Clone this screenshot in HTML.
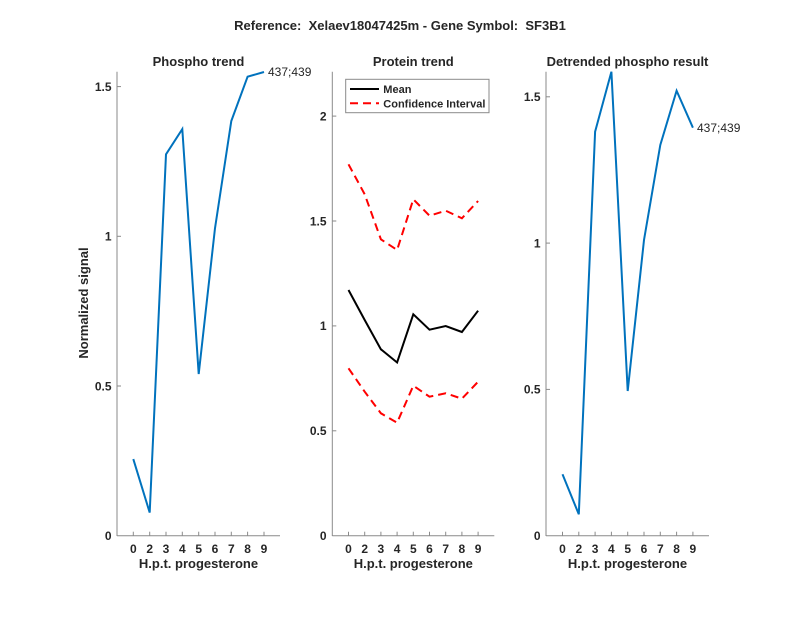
<!DOCTYPE html>
<html>
<head>
<meta charset="utf-8">
<style>
  html, body { margin:0; padding:0; background:#fff; }
  svg { display:block; }
  text { font-family: "Liberation Sans", Arial, sans-serif; fill:#262626; }
  .b { font-weight:bold; }
</style>
</head>
<body>
<svg width="800" height="618" viewBox="0 0 800 618" xmlns="http://www.w3.org/2000/svg">
  <rect width="800" height="618" fill="#fff"/>

  <!-- Super title -->
  <text x="400" y="30" text-anchor="middle" class="b" font-size="13" xml:space="preserve">Reference:  Xelaev18047425m - Gene Symbol:  SF3B1</text>

  <!-- ============ Panel 1: Phospho trend ============ -->
  <text x="198.5" y="66" text-anchor="middle" class="b" font-size="13">Phospho trend</text>
  <g stroke="#8a8a8a" stroke-width="1" fill="none">
    <line x1="117" y1="71.7" x2="117" y2="536"/>
    <line x1="117" y1="535.7" x2="280" y2="535.7"/>
    <line x1="117" y1="386" x2="121" y2="386"/>
    <line x1="117" y1="236.3" x2="121" y2="236.3"/>
    <line x1="117" y1="86.6" x2="121" y2="86.6"/>
    <line x1="133.3" y1="535.7" x2="133.3" y2="531.7"/>
    <line x1="149.7" y1="535.7" x2="149.7" y2="531.7"/>
    <line x1="166" y1="535.7" x2="166" y2="531.7"/>
    <line x1="182.3" y1="535.7" x2="182.3" y2="531.7"/>
    <line x1="198.7" y1="535.7" x2="198.7" y2="531.7"/>
    <line x1="215" y1="535.7" x2="215" y2="531.7"/>
    <line x1="231.3" y1="535.7" x2="231.3" y2="531.7"/>
    <line x1="247.6" y1="535.7" x2="247.6" y2="531.7"/>
    <line x1="264" y1="535.7" x2="264" y2="531.7"/>
  </g>
  <g class="b" font-size="12" text-anchor="end">
    <text x="111.5" y="540">0</text>
    <text x="111.5" y="390.3">0.5</text>
    <text x="111.5" y="240.6">1</text>
    <text x="111.5" y="90.9">1.5</text>
  </g>
  <g class="b" font-size="12" text-anchor="middle">
    <text x="133.3" y="553">0</text>
    <text x="149.7" y="553">2</text>
    <text x="166" y="553">3</text>
    <text x="182.3" y="553">4</text>
    <text x="198.7" y="553">5</text>
    <text x="215" y="553">6</text>
    <text x="231.3" y="553">7</text>
    <text x="247.6" y="553">8</text>
    <text x="264" y="553">9</text>
  </g>
  <text x="198.5" y="568" text-anchor="middle" class="b" font-size="13">H.p.t. progesterone</text>
  <text transform="translate(88,303) rotate(-90)" text-anchor="middle" class="b" font-size="13">Normalized signal</text>
  <polyline fill="none" stroke="#0072BD" stroke-width="2"
    points="133.3,459.1 149.7,512.6 166,154.3 182.3,129.1 198.7,374 215,228.2 231.3,121 247.6,76.7 264,72"/>
  <text x="268" y="76" font-size="12">437;439</text>

  <!-- ============ Panel 2: Protein trend ============ -->
  <text x="413.3" y="66" text-anchor="middle" class="b" font-size="13">Protein trend</text>
  <g stroke="#8a8a8a" stroke-width="1" fill="none">
    <line x1="332.3" y1="71.7" x2="332.3" y2="536"/>
    <line x1="332.3" y1="535.7" x2="494.3" y2="535.7"/>
    <line x1="332.3" y1="430.8" x2="336.3" y2="430.8"/>
    <line x1="332.3" y1="325.9" x2="336.3" y2="325.9"/>
    <line x1="332.3" y1="221" x2="336.3" y2="221"/>
    <line x1="332.3" y1="116.1" x2="336.3" y2="116.1"/>
    <line x1="348.5" y1="535.7" x2="348.5" y2="531.7"/>
    <line x1="364.7" y1="535.7" x2="364.7" y2="531.7"/>
    <line x1="380.9" y1="535.7" x2="380.9" y2="531.7"/>
    <line x1="397.1" y1="535.7" x2="397.1" y2="531.7"/>
    <line x1="413.3" y1="535.7" x2="413.3" y2="531.7"/>
    <line x1="429.5" y1="535.7" x2="429.5" y2="531.7"/>
    <line x1="445.7" y1="535.7" x2="445.7" y2="531.7"/>
    <line x1="461.9" y1="535.7" x2="461.9" y2="531.7"/>
    <line x1="478.1" y1="535.7" x2="478.1" y2="531.7"/>
  </g>
  <g class="b" font-size="12" text-anchor="end">
    <text x="326.5" y="540">0</text>
    <text x="326.5" y="435.1">0.5</text>
    <text x="326.5" y="330.2">1</text>
    <text x="326.5" y="225.3">1.5</text>
    <text x="326.5" y="120.4">2</text>
  </g>
  <g class="b" font-size="12" text-anchor="middle">
    <text x="348.5" y="553">0</text>
    <text x="364.7" y="553">2</text>
    <text x="380.9" y="553">3</text>
    <text x="397.1" y="553">4</text>
    <text x="413.3" y="553">5</text>
    <text x="429.5" y="553">6</text>
    <text x="445.7" y="553">7</text>
    <text x="461.9" y="553">8</text>
    <text x="478.1" y="553">9</text>
  </g>
  <text x="413.3" y="568" text-anchor="middle" class="b" font-size="13">H.p.t. progesterone</text>
  <polyline fill="none" stroke="#FF0000" stroke-width="2" stroke-dasharray="8 5"
    points="348.5,164.3 364.7,194.3 380.9,239.3 397.1,250 413.3,199.3 429.5,215.7 445.7,210.7 461.9,218.3 478.1,201"/>
  <polyline fill="none" stroke="#FF0000" stroke-width="2" stroke-dasharray="8 5"
    points="348.5,368.3 364.7,391.7 380.9,413.3 397.1,422.7 413.3,385.7 429.5,396.7 445.7,393.3 461.9,398.7 478.1,381.7"/>
  <polyline fill="none" stroke="#000" stroke-width="2"
    points="348.5,290 364.7,320 380.9,349.3 397.1,362.5 413.3,314.3 429.5,329.7 445.7,326 461.9,332 478.1,310.7"/>
  <!-- Legend -->
  <rect x="345.7" y="79.3" width="143.3" height="33.4" fill="#fff" stroke="#8a8a8a" stroke-width="1"/>
  <line x1="350" y1="89" x2="379" y2="89" stroke="#000" stroke-width="2"/>
  <line x1="350" y1="103.3" x2="379" y2="103.3" stroke="#FF0000" stroke-width="2" stroke-dasharray="8 5"/>
  <text x="383.3" y="93" class="b" font-size="11">Mean</text>
  <text x="383.3" y="107.3" class="b" font-size="11">Confidence Interval</text>

  <!-- ============ Panel 3: Detrended phospho result ============ -->
  <text x="627.5" y="66" text-anchor="middle" class="b" font-size="13">Detrended phospho result</text>
  <g stroke="#8a8a8a" stroke-width="1" fill="none">
    <line x1="546" y1="71.7" x2="546" y2="536"/>
    <line x1="546" y1="535.7" x2="709" y2="535.7"/>
    <line x1="546" y1="389.4" x2="550" y2="389.4"/>
    <line x1="546" y1="243.1" x2="550" y2="243.1"/>
    <line x1="546" y1="96.8" x2="550" y2="96.8"/>
    <line x1="562.5" y1="535.7" x2="562.5" y2="531.7"/>
    <line x1="578.8" y1="535.7" x2="578.8" y2="531.7"/>
    <line x1="595.1" y1="535.7" x2="595.1" y2="531.7"/>
    <line x1="611.4" y1="535.7" x2="611.4" y2="531.7"/>
    <line x1="627.7" y1="535.7" x2="627.7" y2="531.7"/>
    <line x1="644" y1="535.7" x2="644" y2="531.7"/>
    <line x1="660.3" y1="535.7" x2="660.3" y2="531.7"/>
    <line x1="676.6" y1="535.7" x2="676.6" y2="531.7"/>
    <line x1="692.9" y1="535.7" x2="692.9" y2="531.7"/>
  </g>
  <g class="b" font-size="12" text-anchor="end">
    <text x="540.5" y="540">0</text>
    <text x="540.5" y="393.7">0.5</text>
    <text x="540.5" y="247.4">1</text>
    <text x="540.5" y="101.1">1.5</text>
  </g>
  <g class="b" font-size="12" text-anchor="middle">
    <text x="562.5" y="553">0</text>
    <text x="578.8" y="553">2</text>
    <text x="595.1" y="553">3</text>
    <text x="611.4" y="553">4</text>
    <text x="627.7" y="553">5</text>
    <text x="644" y="553">6</text>
    <text x="660.3" y="553">7</text>
    <text x="676.6" y="553">8</text>
    <text x="692.9" y="553">9</text>
  </g>
  <text x="627.5" y="568" text-anchor="middle" class="b" font-size="13">H.p.t. progesterone</text>
  <polyline fill="none" stroke="#0072BD" stroke-width="2"
    points="562.5,474.3 578.8,514.3 595.1,131.7 611.4,71.7 627.7,391 644,240 660.3,145 676.6,90.7 692.9,127.7"/>
  <text x="697" y="132" font-size="12">437;439</text>
</svg>
</body>
</html>
